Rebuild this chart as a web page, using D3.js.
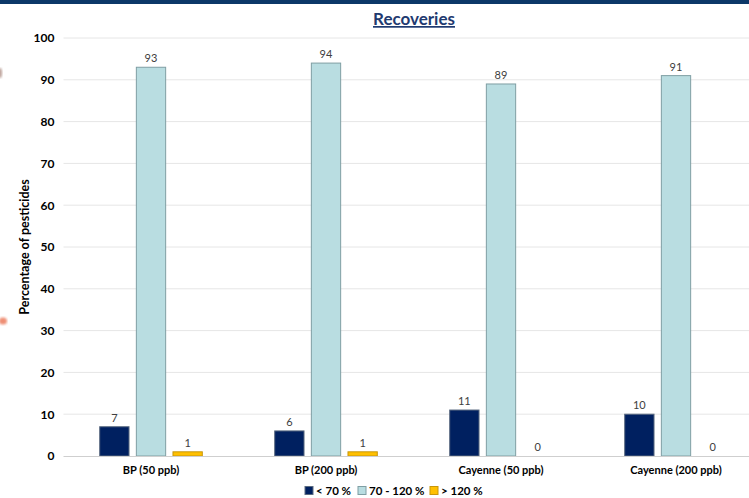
<!DOCTYPE html>
<html>
<head>
<meta charset="utf-8">
<script src="https://cdn.jsdelivr.net/npm/d3@7"></script>
<style>
  html, body { margin: 0; padding: 0; background: #fff; }
  svg { display: block; }
</style>
</head>
<body>
<svg id="chart" width="749" height="498"></svg>
<script>
// Recovery classes per matrix / spiking level (percentage of pesticides)
const categories = ["BP (50 ppb)", "BP (200 ppb)", "Cayenne (50 ppb)", "Cayenne (200 ppb)"];
const seriesNames = ["< 70 %", "70 - 120 %", "> 120 %"];
const below70 = [7, 6, 11, 10];
const within70to120 = [93, 94, 89, 91];
const above120 = [1, 1, 0, 0];
const yTicks = [0, 10, 20, 30, 40, 50, 60, 70, 80, 90, 100];

const seriesValues = [below70, within70to120, above120];
const fills = ["#002060", "#b9dde1", "#ffc000"];
const strokes = ["#5a6a80", "#7f9ea3", "#c8960a"];

const W = 749, H = 498;
const svg = d3.select("#chart");
const font = "Lato, 'Open Sans', sans-serif";
const narrow = "'Liberation Sans Narrow', 'Arial Narrow', Lato, sans-serif";

// top band
svg.append("rect").attr("x", 0).attr("y", 0).attr("width", W).attr("height", 4).attr("fill", "#0c3868");

// small decorative marks on the left margin
const defs = svg.append("defs");
defs.append("filter").attr("id", "soft").append("feGaussianBlur").attr("stdDeviation", 1.2);
svg.append("ellipse").attr("cx", 0).attr("cy", 73).attr("rx", 2).attr("ry", 5)
  .attr("fill", "#a07a70").attr("filter", "url(#soft)").attr("opacity", 0.7);
svg.append("ellipse").attr("cx", 3).attr("cy", 321).attr("rx", 4).attr("ry", 3.5)
  .attr("fill", "#e8603a").attr("filter", "url(#soft)").attr("opacity", 0.7);

const plotLeft = 63.5, plotRight = 763.5, plotTop = 38, plotBottom = 456;

const x0 = d3.scaleBand().domain(categories).range([plotLeft, plotRight]).paddingInner(0.33).paddingOuter(0.165);
const x1 = d3.scaleBand().domain(d3.range(seriesNames.length)).range([0, x0.bandwidth()]).padding(0.2);
const y = d3.scaleLinear().domain([0, 100]).range([plotBottom, plotTop]);

// gridlines
svg.append("g").selectAll("line").data(yTicks.filter(d => d > 0)).join("line")
  .attr("x1", plotLeft).attr("x2", W).attr("y1", d => y(d)).attr("y2", d => y(d))
  .attr("stroke", "#e6e6e6").attr("stroke-width", 1);

// y axis labels
const yAxis = svg.append("g").attr("transform", `translate(${plotLeft},0)`)
  .call(d3.axisLeft(y).tickValues(yTicks).tickSize(0).tickPadding(9));
yAxis.select(".domain").remove();
yAxis.selectAll("text").attr("font-family", font).attr("font-size", 12).attr("font-weight", "bold").attr("fill", "#000");

// bars
categories.forEach((cat, ci) => {
  const g = svg.append("g").attr("transform", `translate(${x0(cat)},0)`);
  seriesValues.forEach((vals, si) => {
    const v = vals[ci];
    if (v > 0) {
      g.append("rect")
        .attr("x", x1(si)).attr("width", x1.bandwidth())
        .attr("y", y(v)).attr("height", y(0) - y(v))
        .attr("fill", fills[si]).attr("stroke", strokes[si]).attr("stroke-width", 1);
    }
    g.append("text")
      .attr("x", x1(si) + x1.bandwidth() / 2).attr("y", y(v) - 5)
      .attr("text-anchor", "middle").attr("font-family", font).attr("font-size", 11)
      .attr("fill", "#404040").text(v);
  });
});

// baseline and category labels
const xAxis = svg.append("g").attr("transform", `translate(0,${plotBottom})`)
  .call(d3.axisBottom(x0).tickSize(0).tickPadding(10));
xAxis.select(".domain").attr("stroke", "#cfcfcf").attr("d", `M${plotLeft},0.5H${W}`);
xAxis.selectAll("text").attr("font-family", font).attr("font-size", 11).attr("font-weight", "bold").attr("fill", "#000");

// axis title
svg.append("text").attr("transform", `translate(29,${(plotTop + plotBottom) / 2}) rotate(-90)`)
  .attr("text-anchor", "middle").attr("font-family", font).attr("font-size", 12.5)
  .attr("font-weight", "bold").attr("fill", "#000").text("Percentage of pesticides");

// title
svg.append("text").attr("x", 414).attr("y", 25).attr("text-anchor", "middle")
  .attr("font-family", narrow).attr("font-size", 17).attr("font-weight", "bold")
  .attr("fill", "#1f3a70").attr("text-decoration", "underline").text("Recoveries");

// legend
const legendX = [305, 358, 430];
const legend = svg.append("g");
seriesNames.forEach((name, i) => {
  legend.append("rect").attr("x", legendX[i]).attr("y", 486.5).attr("width", 8).attr("height", 8)
    .attr("fill", fills[i]).attr("stroke", strokes[i]);
  legend.append("text").attr("x", legendX[i] + 11).attr("y", 495)
    .attr("font-family", font).attr("font-size", 11.5).attr("font-weight", "bold").attr("fill", "#000").text(name);
});
</script>
</body>
</html>
